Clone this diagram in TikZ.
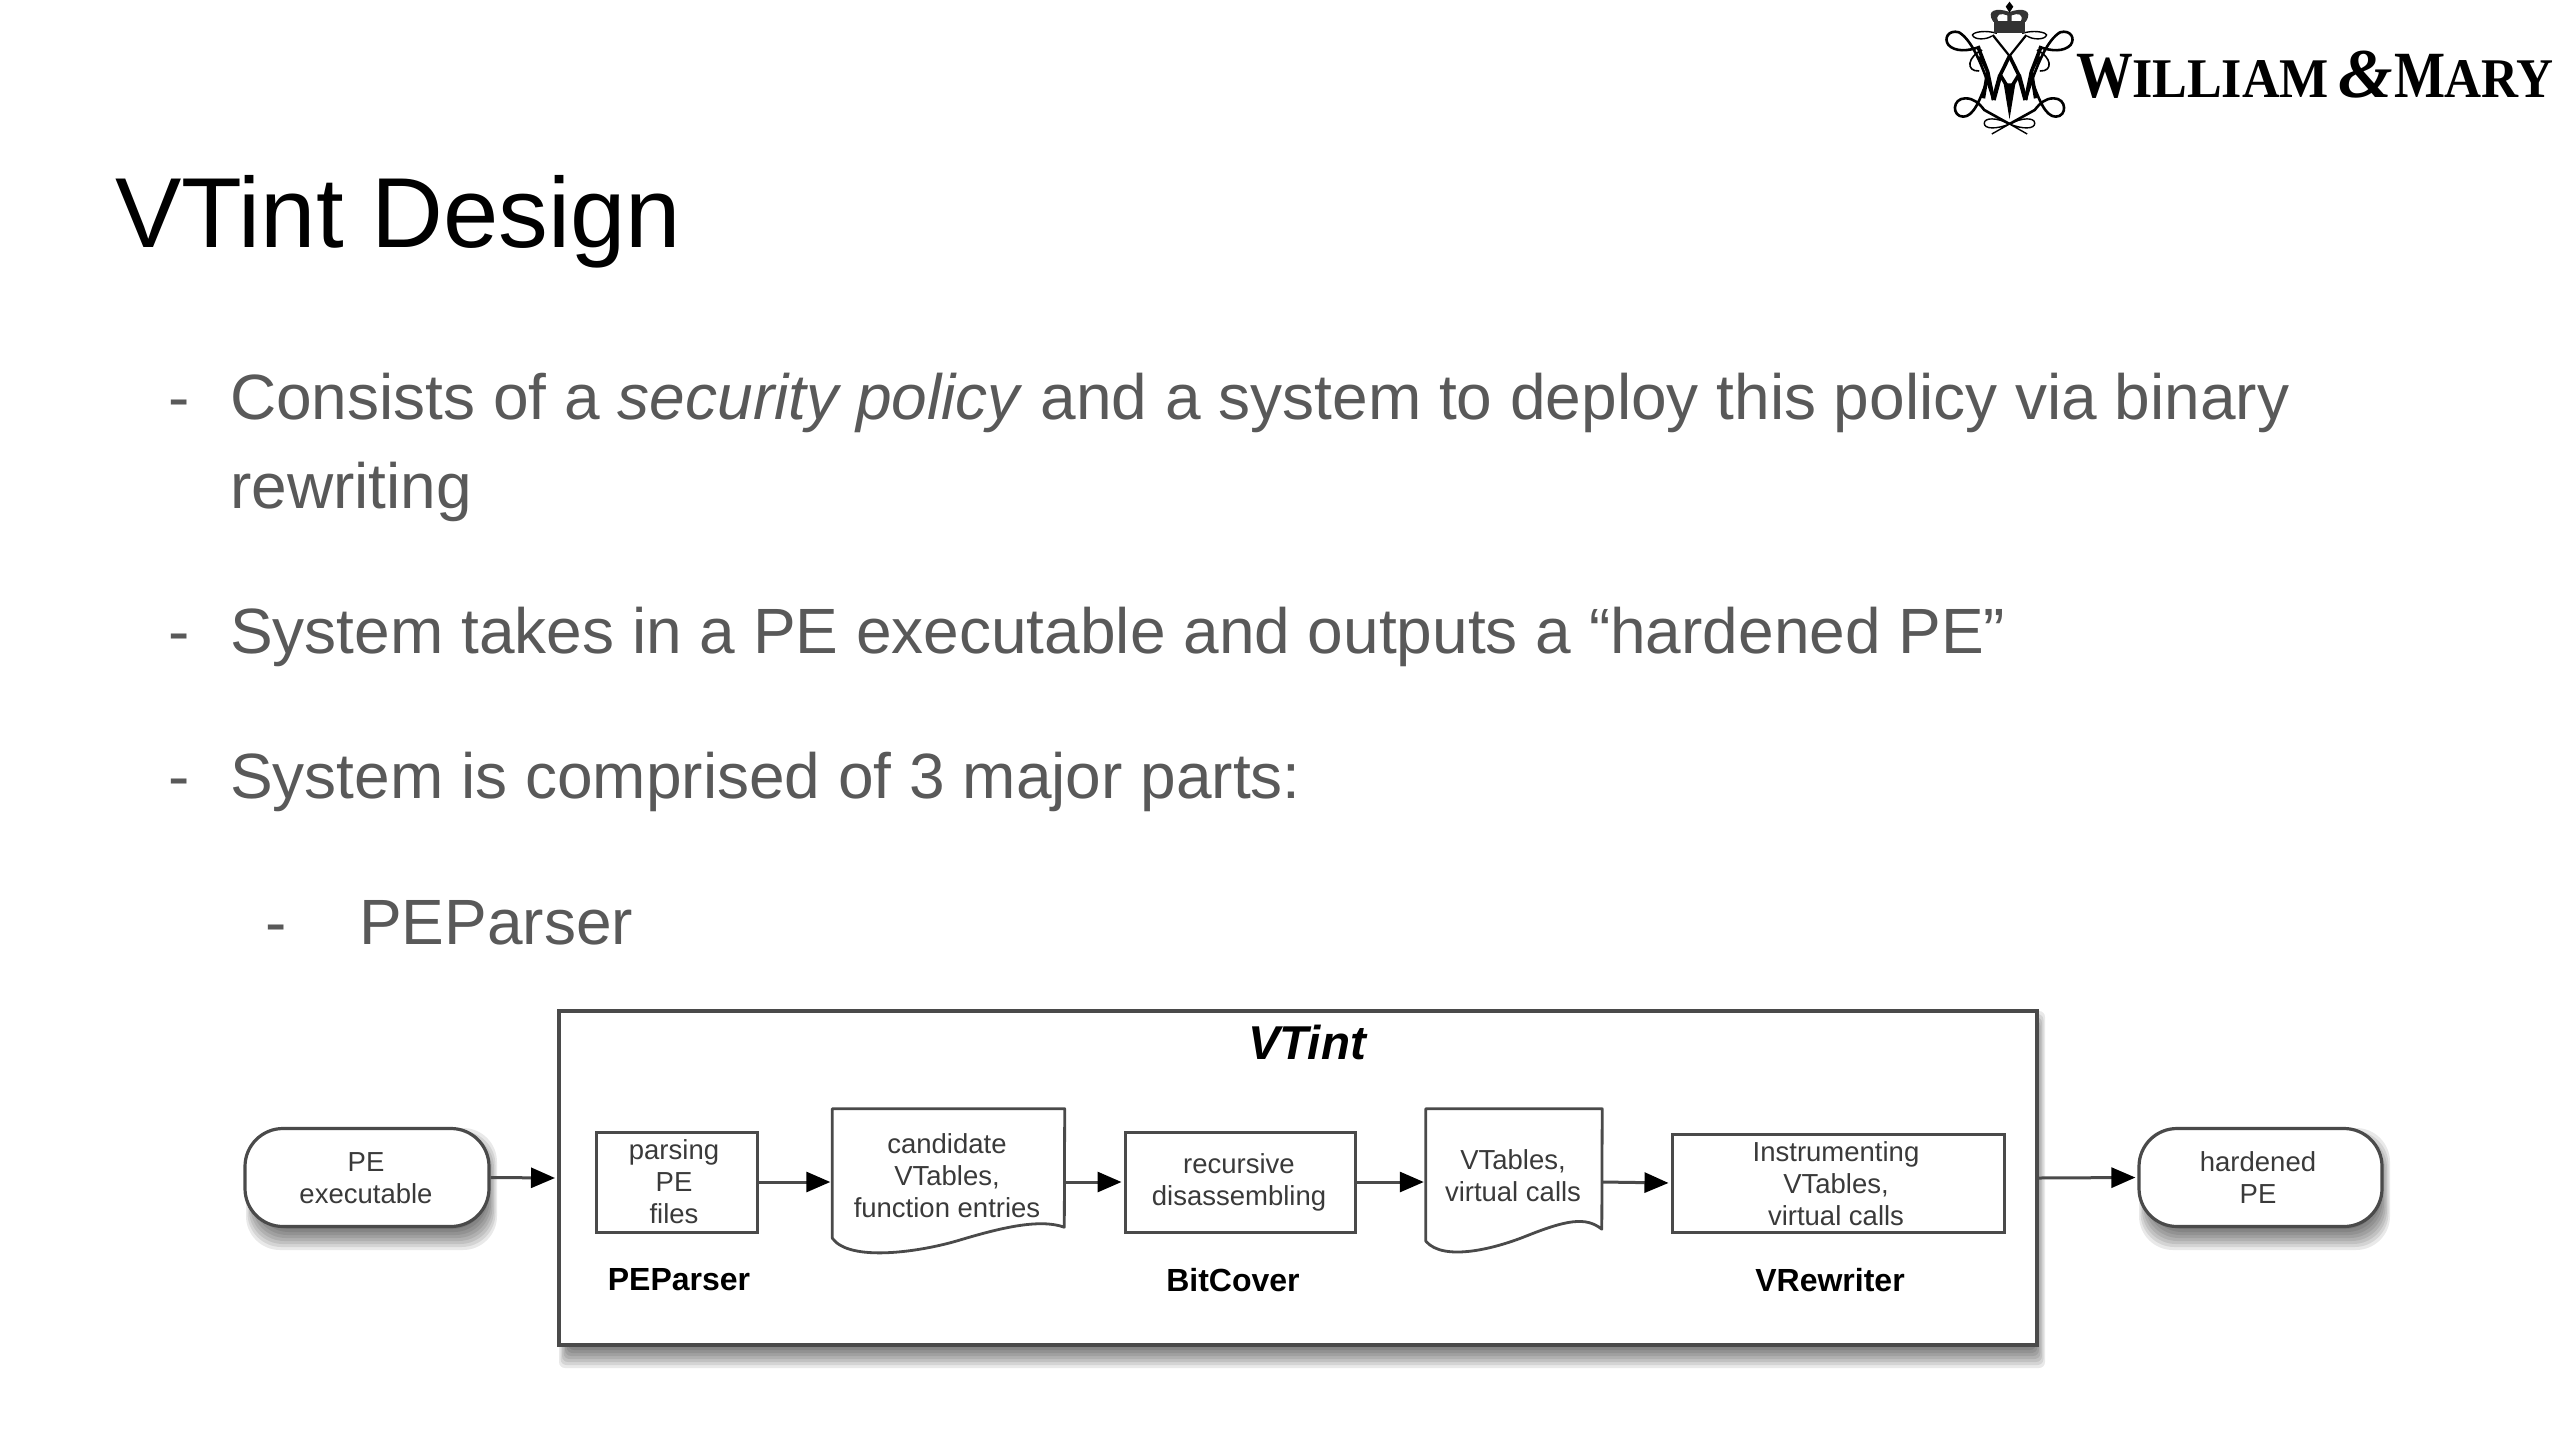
\documentclass[tikz,border=0pt]{standalone}
\usepackage{fontspec}
\setmainfont{Liberation Sans}
\newfontfamily\logofont{Liberation Serif}
\usetikzlibrary{arrows.meta,calc}
\definecolor{bodygray}{HTML}{595959}
\definecolor{linegray}{HTML}{4A4A4A}
\definecolor{innertext}{HTML}{3A3A3A}
\newcommand{\softshadow}[5]{%
  \foreach \d in {-12,-9,-6,-3,0,3,6,9,12}{%
    \fill[black,opacity=0.085,rounded corners=#5]
      ({#1+6-\d/2},{#2+12-\d}) rectangle ({#3+2+\d/2},{#4+11+\d});
  }}
\newcommand{\halfcypher}{%
  % big upper loop
  \draw[line width=2.6pt] (38,300) .. controls (65,190) and (90,120) .. (120,97)
     .. controls (145,88) and (157,115) .. (145,135)
     .. controls (130,155) and (100,155) .. (70,140);
  % lower loop
  \draw[line width=2.6pt] (50,230) .. controls (70,300) and (85,350) .. (110,350)
     .. controls (137,350) and (137,295) .. (105,295)
     .. controls (85,295) and (72,310) .. (60,330) -- (0,372);
  % inner curl
  \draw[line width=1.6pt] (65,150) .. controls (100,170) and (105,215) .. (72,213);
  % top bow
  \draw[line width=1.4pt] (30,100) .. controls (55,90) and (85,95) .. (88,105)
     .. controls (85,120) and (55,120) .. (42,108);
  % W and M strokes
  \draw[line width=3.6pt] (0,168) -- (22,225) -- (0,270);
  \draw[line width=4.4pt] (22,225) -- (38,300);
  \draw[line width=3.6pt] (38,300) -- (52,215) -- (75,140);
  \draw[line width=2.2pt] (40,105) -- (0,168);
  \draw[line width=3.6pt] (52,215) -- (62,295);
  \draw[line width=2pt] (72,170) -- (52,215);
  % bottom bow
  \draw[line width=1.4pt] (0,372) .. controls (30,352) and (60,352) .. (60,370)
     .. controls (60,388) and (30,388) .. (0,372) -- (42,402);
}
\tikzset{
  x=1pt,y=-1pt,
  slidetitle/.style={anchor=base west,inner sep=0pt,text=black,font=\fontsize{99.5}{99.5}\selectfont},
  bodytext/.style={anchor=base west,inner sep=0pt,text=bodygray,font=\fontsize{64}{64}\selectfont},
  innerlabel/.style={inner sep=0pt,align=center,text=innertext,
     font=\fontsize{27.5}{32}\selectfont},
  partlabel/.style={inner sep=0pt,text=black,font=\bfseries\fontsize{32}{32}\selectfont},
  procbox/.style={draw=linegray,line width=3pt,fill=white,rectangle,inner sep=0pt},
  pill/.style={draw=linegray,line width=3.2pt,fill=white,rectangle,rounded corners=38pt,inner sep=0pt,
     minimum width=244pt,minimum height=98pt},
  ghostbox/.style={rectangle,inner sep=0pt},
  docline/.style={draw=linegray,line width=2.8pt,fill=white,line join=round},
  flow/.style={draw=linegray,line width=3pt,-{Triangle[length=24pt,width=20pt,black]},shorten >=2pt},
  logotext/.style={anchor=base west,inner sep=0pt,text=black},
}
\begin{document}
\begin{tikzpicture}
\useasboundingbox (0,0) rectangle (2560,1440);
\fill[white] (0,0) rectangle (2560,1440);

% logo
\begin{scope}[shift={(2009.5,0)},x=0.4209pt,y=-0.3333pt]
  \halfcypher
\end{scope}
\begin{scope}[shift={(2009.5,0)},x=-0.4209pt,y=-0.3333pt]
  \halfcypher
  \fill[black] (-14,250) -- (14,250) -- (0,358) -- cycle;
  % crown
  \fill[black!80] (-36,62) rectangle (36,100);
  \fill[black!80] (-38,66) .. controls (-58,30) and (-30,22) .. (0,36)
      .. controls (30,22) and (58,30) .. (38,66) -- (26,66)
      .. controls (36,42) and (20,38) .. (5,46) -- (5,66) -- (-5,66) -- (-5,46)
      .. controls (-20,38) and (-36,42) .. (-26,66) -- cycle;
  \fill[black] (0,5) -- (9,20) -- (0,38) -- (-9,20) -- cycle;
\end{scope}
\node[logotext,font=\logofont\bfseries\fontsize{66}{66}\selectfont] (logoW) at (2076,97) {\scalebox{0.86}[1]{W}};
\node[logotext,font=\logofont\bfseries\fontsize{56}{56}\selectfont] (logoI) at (2132,97) {\scalebox{0.93}[1]{ILLIAM}};
\node[logotext,font=\logofont\bfseries\itshape\fontsize{70}{70}\selectfont] (logoAmp) at (2338,97) {\&};
\node[logotext,font=\logofont\bfseries\fontsize{66}{66}\selectfont] (logoM) at (2394,97) {\scalebox{0.82}[1]{M}};
\node[logotext,font=\logofont\bfseries\fontsize{56}{56}\selectfont] (logoR) at (2444,97) {\scalebox{0.915}[1]{ARY}};

% text
\node[slidetitle] (title) at (115,247) {VTint Design};
\node[bodytext] (d1) at (168,419.5) {-};
\node[bodytext] (t1) at (230,419.5) {Consists of a \textit{security policy} and a system to deploy this policy via binary};
\node[bodytext] (t1b) at (230,508) {rewriting};
\node[bodytext] (d2) at (168,653) {-};
\node[bodytext] (t2) at (230,653) {System takes in a PE executable and outputs a “hardened PE”};
\node[bodytext] (d3) at (168,798) {-};
\node[bodytext] (t3) at (230,798) {System is comprised of 3 major parts:};
\node[bodytext] (d4) at (265,944) {-};
\node[bodytext] (t4) at (359,944) {PEParser};

% shadows
\softshadow{559}{1011}{2037}{1345}{6pt}
\softshadow{246}{1128}{489}{1227}{34pt}
\softshadow{2139}{1128}{2382}{1227}{34pt}

% frame
\node[procbox,line width=4pt,minimum width=1478pt,minimum height=334pt] (frame) at (1298,1178) {};
\node[inner sep=0pt,text=black,font=\bfseries\itshape\fontsize{47.5}{47.5}\selectfont] (vtint) at (1307,1042) {VTint};

% terminals
\node[pill] (pe) at (367,1177.5) {};
\node[innerlabel] (petext) at (366,1178) {PE\\executable};
\node[pill,minimum width=243pt] (hard) at (2260.5,1177.5) {};
\node[innerlabel] (hardtext) at (2258,1178) {hardened\\PE};

% process boxes
\node[procbox,minimum width=161pt,minimum height=100pt,align=center] (parse) at (676.5,1182) {};
\node[innerlabel] (parsetext) at (674,1182) {parsing\\PE\\files};
\node[procbox,minimum width=230pt,minimum height=100pt] (recur) at (1240,1182) {};
\node[innerlabel] (recurtext) at (1239,1182) {recursive\\disassembling};
\node[procbox,minimum width=332pt,minimum height=98pt] (instr) at (1838,1183) {};
\node[innerlabel] (instrtext) at (1836,1184) {Instrumenting\\VTables,\\virtual calls};

% documents (the ghost box gives the connector anchors, the outline is drawn on it)
\node[ghostbox,minimum width=232pt,minimum height=146pt] (doca) at (948.5,1182) {};
\draw[docline] (doca.north west) -- (doca.north east) -- ($(doca.south west)+(232,-28)$)
  .. controls ($(doca.south west)+(207,-37)$) and ($(doca.south west)+(167,-27)$) .. ($(doca.south west)+(127,-15)$)
  .. controls ($(doca.south west)+(87,-3)$) and ($(doca.south west)+(17,7)$) .. ($(doca.south west)+(0,-17)$) -- cycle;
\node[innerlabel] (docatext) at (947,1176) {candidate\\VTables,\\function entries};
\node[ghostbox,minimum width=176pt,minimum height=146pt] (docb) at (1514,1182) {};
\draw[docline] (docb.north west) -- (docb.north east) -- ($(docb.south west)+(176,-26)$)
  .. controls ($(docb.south west)+(160,-39)$) and ($(docb.south west)+(140,-35)$) .. ($(docb.south west)+(100,-19)$)
  .. controls ($(docb.south west)+(70,-7)$) and ($(docb.south west)+(18,7)$) .. ($(docb.south west)+(0,-14)$) -- cycle;
\node[innerlabel] (docbtext) at (1513,1176) {VTables,\\virtual calls};

% part labels
\node[partlabel] (lab1) at (679,1280) {PEParser};
\node[partlabel] (lab2) at (1233,1280) {BitCover};
\node[partlabel] (lab3) at (1830,1280) {VRewriter};

% connectors
\draw[flow] (pe.east) -- (frame.west);
\draw[flow] (parse.east) -- (doca.west);
\draw[flow] (doca.east) -- (recur.west);
\draw[flow] (recur.east) -- (docb.west);
\draw[flow] (docb.east) -- (instr.west);
\draw[flow] (frame.east) -- (hard.west);
\end{tikzpicture}
\end{document}
